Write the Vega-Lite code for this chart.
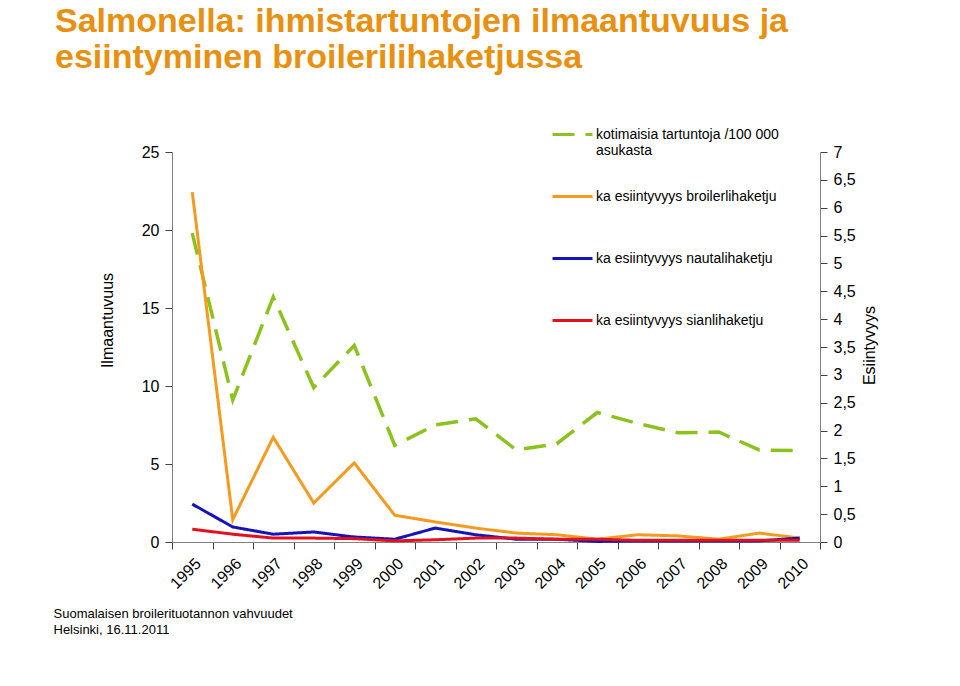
{
  "$schema": "https://vega.github.io/schema/vega-lite/v6.json",
  "width": 648,
  "height": 390,
  "autosize": {"type": "none"},
  "padding": {"left": 172, "top": 152, "right": 140, "bottom": 144},
  "background": "white",
  "title": {
    "text": ["Salmonella: ihmistartuntojen ilmaantuvuus ja", "esiintyminen broilerilihaketjussa"],
    "anchor": "start",
    "frame": "group",
    "font": "Liberation Sans",
    "fontSize": 34,
    "fontWeight": "bold",
    "color": "#E8900F",
    "lineHeight": 36,
    "dx": -117,
    "offset": 38
  },
  "datasets": {
    "incidence": [
      {"year": "1995", "series": "kotimaisia tartuntoja /100 000 asukasta", "value": 19.8},
      {"year": "1996", "series": "kotimaisia tartuntoja /100 000 asukasta", "value": 9.1},
      {"year": "1997", "series": "kotimaisia tartuntoja /100 000 asukasta", "value": 15.7},
      {"year": "1998", "series": "kotimaisia tartuntoja /100 000 asukasta", "value": 9.9},
      {"year": "1999", "series": "kotimaisia tartuntoja /100 000 asukasta", "value": 12.6},
      {"year": "2000", "series": "kotimaisia tartuntoja /100 000 asukasta", "value": 6.2},
      {"year": "2001", "series": "kotimaisia tartuntoja /100 000 asukasta", "value": 7.5},
      {"year": "2002", "series": "kotimaisia tartuntoja /100 000 asukasta", "value": 7.9},
      {"year": "2003", "series": "kotimaisia tartuntoja /100 000 asukasta", "value": 5.9},
      {"year": "2004", "series": "kotimaisia tartuntoja /100 000 asukasta", "value": 6.3},
      {"year": "2005", "series": "kotimaisia tartuntoja /100 000 asukasta", "value": 8.3},
      {"year": "2006", "series": "kotimaisia tartuntoja /100 000 asukasta", "value": 7.6},
      {"year": "2007", "series": "kotimaisia tartuntoja /100 000 asukasta", "value": 7.0},
      {"year": "2008", "series": "kotimaisia tartuntoja /100 000 asukasta", "value": 7.05},
      {"year": "2009", "series": "kotimaisia tartuntoja /100 000 asukasta", "value": 5.9},
      {"year": "2010", "series": "kotimaisia tartuntoja /100 000 asukasta", "value": 5.85}
    ],
    "prevalence": [
      {"year": "1995", "series": "ka esiintyvyys broilerlihaketju", "value": 6.28},
      {"year": "1996", "series": "ka esiintyvyys broilerlihaketju", "value": 0.4},
      {"year": "1997", "series": "ka esiintyvyys broilerlihaketju", "value": 1.88},
      {"year": "1998", "series": "ka esiintyvyys broilerlihaketju", "value": 0.7},
      {"year": "1999", "series": "ka esiintyvyys broilerlihaketju", "value": 1.42},
      {"year": "2000", "series": "ka esiintyvyys broilerlihaketju", "value": 0.48},
      {"year": "2001", "series": "ka esiintyvyys broilerlihaketju", "value": 0.36},
      {"year": "2002", "series": "ka esiintyvyys broilerlihaketju", "value": 0.25},
      {"year": "2003", "series": "ka esiintyvyys broilerlihaketju", "value": 0.16},
      {"year": "2004", "series": "ka esiintyvyys broilerlihaketju", "value": 0.13},
      {"year": "2005", "series": "ka esiintyvyys broilerlihaketju", "value": 0.05},
      {"year": "2006", "series": "ka esiintyvyys broilerlihaketju", "value": 0.13},
      {"year": "2007", "series": "ka esiintyvyys broilerlihaketju", "value": 0.11},
      {"year": "2008", "series": "ka esiintyvyys broilerlihaketju", "value": 0.05},
      {"year": "2009", "series": "ka esiintyvyys broilerlihaketju", "value": 0.16},
      {"year": "2010", "series": "ka esiintyvyys broilerlihaketju", "value": 0.07},
      {"year": "1995", "series": "ka esiintyvyys nautalihaketju", "value": 0.68},
      {"year": "1996", "series": "ka esiintyvyys nautalihaketju", "value": 0.27},
      {"year": "1997", "series": "ka esiintyvyys nautalihaketju", "value": 0.14},
      {"year": "1998", "series": "ka esiintyvyys nautalihaketju", "value": 0.18},
      {"year": "1999", "series": "ka esiintyvyys nautalihaketju", "value": 0.09},
      {"year": "2000", "series": "ka esiintyvyys nautalihaketju", "value": 0.05},
      {"year": "2001", "series": "ka esiintyvyys nautalihaketju", "value": 0.25},
      {"year": "2002", "series": "ka esiintyvyys nautalihaketju", "value": 0.13},
      {"year": "2003", "series": "ka esiintyvyys nautalihaketju", "value": 0.05},
      {"year": "2004", "series": "ka esiintyvyys nautalihaketju", "value": 0.05},
      {"year": "2005", "series": "ka esiintyvyys nautalihaketju", "value": 0.01},
      {"year": "2006", "series": "ka esiintyvyys nautalihaketju", "value": 0.02},
      {"year": "2007", "series": "ka esiintyvyys nautalihaketju", "value": 0.02},
      {"year": "2008", "series": "ka esiintyvyys nautalihaketju", "value": 0.02},
      {"year": "2009", "series": "ka esiintyvyys nautalihaketju", "value": 0.02},
      {"year": "2010", "series": "ka esiintyvyys nautalihaketju", "value": 0.07},
      {"year": "1995", "series": "ka esiintyvyys sianlihaketju", "value": 0.23},
      {"year": "1996", "series": "ka esiintyvyys sianlihaketju", "value": 0.14},
      {"year": "1997", "series": "ka esiintyvyys sianlihaketju", "value": 0.07},
      {"year": "1998", "series": "ka esiintyvyys sianlihaketju", "value": 0.07},
      {"year": "1999", "series": "ka esiintyvyys sianlihaketju", "value": 0.06},
      {"year": "2000", "series": "ka esiintyvyys sianlihaketju", "value": 0.02},
      {"year": "2001", "series": "ka esiintyvyys sianlihaketju", "value": 0.04},
      {"year": "2002", "series": "ka esiintyvyys sianlihaketju", "value": 0.07},
      {"year": "2003", "series": "ka esiintyvyys sianlihaketju", "value": 0.07},
      {"year": "2004", "series": "ka esiintyvyys sianlihaketju", "value": 0.05},
      {"year": "2005", "series": "ka esiintyvyys sianlihaketju", "value": 0.05},
      {"year": "2006", "series": "ka esiintyvyys sianlihaketju", "value": 0.03},
      {"year": "2007", "series": "ka esiintyvyys sianlihaketju", "value": 0.03},
      {"year": "2008", "series": "ka esiintyvyys sianlihaketju", "value": 0.03},
      {"year": "2009", "series": "ka esiintyvyys sianlihaketju", "value": 0.03},
      {"year": "2010", "series": "ka esiintyvyys sianlihaketju", "value": 0.03}
    ]
  },
  "layer": [
    {
      "data": {"name": "incidence"},
      "mark": {"type": "line", "strokeWidth": 3.5, "strokeCap": "butt"},
      "encoding": {
        "x": {
          "field": "year", "type": "ordinal",
          "scale": {"type": "band", "paddingInner": 0, "paddingOuter": 0},
          "axis": {
            "tickBand": "extent",
            "labelAngle": -45,
            "labelFontSize": 16,
            "labelPadding": 6,
            "tickSize": 7,
            "title": ["Suomalaisen broilerituotannon vahvuudet", "Helsinki, 16.11.2011"],
            "titleAnchor": "start",
            "titleAlign": "left",
            "titleBaseline": "top",
            "titleX": -119,
            "titleY": 65,
            "titleFontSize": 13,
            "titleFontWeight": "normal",
            "titleLineHeight": 16
          }
        },
        "y": {
          "field": "value", "type": "quantitative",
          "scale": {"domain": [0, 25], "nice": false, "zero": true},
          "axis": {
            "orient": "left",
            "values": [0, 5, 10, 15, 20, 25],
            "title": "Ilmaantuvuus",
            "titleX": -57,
            "titleY": 168,
            "titleFontSize": 16,
            "titleFontWeight": "normal",
            "labelFontSize": 16,
            "labelPadding": 6,
            "tickSize": 7
          }
        },
        "color": {
          "field": "series", "type": "nominal",
          "scale": {
            "domain": ["kotimaisia tartuntoja /100 000 asukasta", "ka esiintyvyys broilerlihaketju", "ka esiintyvyys nautalihaketju", "ka esiintyvyys sianlihaketju"],
            "range": ["#8CC21E", "#F49B1F", "#1414B8", "#E3101E"]
          },
          "legend": {
            "labelExpr": "datum.label == 'kotimaisia tartuntoja /100 000 asukasta' ? ['kotimaisia tartuntoja /100 000', 'asukasta'] : [datum.label, ' ']"
          }
        },
        "strokeDash": {
          "field": "series", "type": "nominal",
          "scale": {
            "domain": ["kotimaisia tartuntoja /100 000 asukasta", "ka esiintyvyys broilerlihaketju", "ka esiintyvyys nautalihaketju", "ka esiintyvyys sianlihaketju"],
            "range": [[22, 11], [1, 0], [1, 0], [1, 0]]
          },
          "legend": {
            "labelExpr": "datum.label == 'kotimaisia tartuntoja /100 000 asukasta' ? ['kotimaisia tartuntoja /100 000', 'asukasta'] : [datum.label, ' ']"
          }
        }
      }
    },
    {
      "data": {"name": "prevalence"},
      "mark": {"type": "line", "strokeWidth": 3},
      "encoding": {
        "x": {"field": "year", "type": "ordinal"},
        "y": {
          "field": "value", "type": "quantitative",
          "scale": {"domain": [0, 7], "nice": false, "zero": true},
          "axis": {
            "orient": "right",
            "values": [0, 0.5, 1, 1.5, 2, 2.5, 3, 3.5, 4, 4.5, 5, 5.5, 6, 6.5, 7],
            "labelExpr": "replace(format(datum.value, ''), '.', ',')",
            "title": "Esiintyvyys",
            "titleAngle": -90,
            "titleX": 57,
            "titleY": 193,
            "titleFontSize": 16,
            "titleFontWeight": "normal",
            "labelFontSize": 16,
            "labelPadding": 6,
            "tickSize": 7
          }
        },
        "color": {"field": "series", "type": "nominal"},
        "strokeDash": {"field": "series", "type": "nominal"}
      }
    }
  ],
  "resolve": {"scale": {"y": "independent"}},
  "config": {
    "font": "Liberation Sans",
    "view": {"stroke": null},
    "axis": {
      "grid": false,
      "domainColor": "#808080",
      "tickColor": "#404040",
      "labelColor": "#000000",
      "titleColor": "#000000",
      "labelFont": "Liberation Sans",
      "titleFont": "Liberation Sans"
    },
    "legend": {
      "orient": "none",
      "legendX": 379,
      "legendY": -39,
      "title": null,
      "symbolType": "stroke",
      "symbolSize": 1600,
      "symbolStrokeWidth": 3,
      "labelFontSize": 14,
      "labelFont": "Liberation Sans",
      "labelColor": "#000000",
      "labelOffset": 2,
      "labelLimit": 400,
      "rowPadding": 17
    }
  }
}
